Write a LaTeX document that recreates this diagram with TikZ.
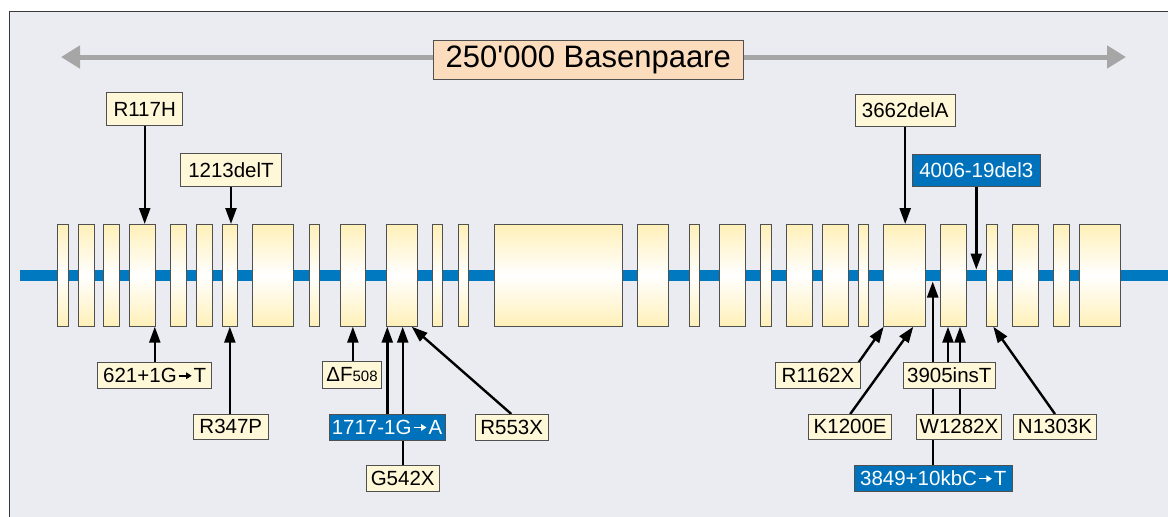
\documentclass[tikz,border=0pt]{standalone}
\usepackage{fontspec}
\setmainfont{Liberation Sans}[Ligatures=TeXOff]
\usetikzlibrary{arrows.meta,calc}
\definecolor{panel}{HTML}{EBECF2}
\definecolor{frameline}{HTML}{3A3A3A}
\definecolor{geneblue}{HTML}{0079C1}
\definecolor{exonyellow}{HTML}{FFF0B8}
\definecolor{cream}{HTML}{FFF8D8}
\definecolor{peach}{HTML}{FBDDBE}
\definecolor{scalegray}{HTML}{A6A6A6}
\definecolor{boxblue}{HTML}{0072BC}
\definecolor{edge}{HTML}{505050}
\pgfdeclarelayer{bg}
\pgfdeclarelayer{conn}
\pgfsetlayers{bg,conn,main}
% short bold arrow used inside mutation names
\newcommand{\mutarrow}{\kern0.06em\tikz[baseline=0pt,x=1pt,y=1pt]
  \draw[line width=1.5pt,-{Triangle[length=5.5pt,width=6.5pt]}] (0,6.6) -- (13,6.6);\kern0.06em}
\tikzset{
  exon/.style={draw=edge, line width=0.9pt, inner sep=0pt, outer sep=0pt,
    minimum height=102.7pt, top color=exonyellow, bottom color=exonyellow,
    middle color=white},
  lab/.style={draw=edge, line width=0.8pt, fill=cream, inner sep=0pt, outer sep=0pt,
    font=\fontsize{20.5}{21}\selectfont, text=black},
  bluelab/.style={lab, fill=boxblue, text=white},
  pointer/.style={line width=2.4pt, -{Triangle[length=16pt,width=11pt]}}
}
\begin{document}
\begin{tikzpicture}[x=1pt,y=-1pt]
\useasboundingbox (0,0) rectangle (1168,517);

% panel with its top and left border
\begin{pgfonlayer}{bg}
  \fill[panel] (9,11) rectangle (1168,517);
  \draw[frameline, line width=1pt] (9,517) -- (9,11) -- (1168,11);
  % gene backbone
  \coordinate (gl) at (20,275.5);
  \coordinate (gr) at (1168,275.5);
  \draw[geneblue, line width=11pt] (gl) -- (gr);
\end{pgfonlayer}

% scale bar
\coordinate (sl) at (61,57);
\coordinate (sr) at (1126,57);
\draw[scalegray, line width=5pt,
  {Triangle[length=19pt,width=22pt]}-{Triangle[length=19pt,width=22pt]}] (sl) -- (sr);
\node[draw=edge, line width=0.8pt, fill=peach, inner sep=0pt,
  minimum width=310pt, minimum height=39pt,
  font=\fontsize{31}{32}\selectfont] (title) at (588.3,59.7) {250'000 Basenpaare};

% exons
\foreach \l/\r [count=\i] in {57.3/68.3, 78.3/94, 103.7/119.3, 129.3/155.3,
  170.3/186, 196.3/212, 222/237.7, 252.3/293.7, 309.3/319.7, 340/365.7,
  386.3/417.3, 432.3/442.7, 458/468.3, 494/622.3, 637.7/668.3, 689/699.3,
  719.7/745.3, 760.7/771, 786.3/812.3, 822.3/848.3, 858.3/868.7, 883.7/925.3,
  940.3/966.3, 986.3/997.3, 1012.3/1038.3, 1053.3/1069, 1079/1120.3}
  \node[exon, minimum width={\r-\l}] (e\i) at ({(\l+\r)/2},275.35) {};

\coordinate (gtop) at (0,269.5);
\coordinate (gbot) at (0,281.5);

% mutation labels above the gene
\node[lab, minimum width=76pt, minimum height=33.4pt] (r117h) at (144.7,109) {R117H};
\node[lab, minimum width=101.4pt, minimum height=32.7pt] (d1213) at (231,169.7) {1213delT};
\node[lab, minimum width=100.3pt, minimum height=32pt] (d3662) at (905.2,110) {3662delA};
\node[bluelab, minimum width=127.3pt, minimum height=32.7pt] (d4006) at (976.3,170.3) {4006-19del3};

% mutation labels below the gene
\node[lab, minimum width=114pt, minimum height=26pt] (s621) at (154.7,375.3) {621+1G\mutarrow T};
\node[lab, minimum width=75pt, minimum height=25.3pt] (r347p) at (230.8,426.7) {R347P};
\node[lab, minimum width=59.4pt, minimum height=26.6pt] (df508) at (352,375) {ΔF{\fontsize{15}{15}\selectfont 508}};
\node[bluelab, minimum width=116pt, minimum height=26pt] (s1717) at (387,427) {1717-1G\mutarrow A};
\node[lab, minimum width=73.3pt, minimum height=26.7pt] (g542x) at (402.7,478.3) {G542X};
\node[lab, minimum width=73.3pt, minimum height=26pt] (r553x) at (511.7,427) {R553X};
\node[lab, minimum width=85.4pt, minimum height=26pt] (r1162x) at (818,375.3) {R1162X};
\node[lab, minimum width=83pt, minimum height=25.3pt] (k1200e) at (850.2,426.7) {K1200E};
\node[lab, minimum width=92.7pt, minimum height=26pt] (i3905) at (949.3,375.3) {3905insT};
\node[lab, minimum width=85.4pt, minimum height=25.3pt] (w1282x) at (959,426.7) {W1282X};
\node[bluelab, minimum width=157.3pt, minimum height=26pt] (s3849) at (933.3,478) {3849+10kbC\mutarrow T};
\node[lab, minimum width=83.4pt, minimum height=25.3pt] (n1303k) at (1055,426.7) {N1303K};

% attachment points on the exons
\coordinate (t553) at ($(e11.south east)+(-5.6,0)$);
\coordinate (t1200) at ($(e22.south)+(8.8,0)$);
\coordinate (t3905) at ($(e23.south)+(-5.3,0)$);
\coordinate (t1282) at ($(e23.south)+(6.7,0)$);
\coordinate (t1303) at ($(e24.south)+(1.5,0)$);
\coordinate (t621) at ($(e4.south east)+(-0.5,0)$);
\coordinate (t1717) at ($(e11.south west)+(1,0)$);

% pointers from labels to the gene
\begin{pgfonlayer}{conn}
  \draw[pointer] (r117h.south) -- (r117h.south |- e4.north);
  \draw[pointer] (d1213.south) -- (d1213.south |- e7.north);
  \draw[pointer] (d3662.south) -- (d3662.south |- e22.north);
  \draw[pointer] (d4006.south) -- (d4006.south |- gtop);

  \draw[pointer] (t621 |- s621.north) -- (t621);
  \draw[pointer] (e7.south |- r347p.north) -- (e7.south);
  \draw[pointer] (e10.south |- df508.north) -- (e10.south);
  \draw[pointer] (t1717 |- s1717.north) -- (t1717);
  \draw[pointer] (g542x.north) -- (g542x.north |- e11.south);
  \draw[pointer] ([xshift=-0.4pt]r553x.north) -- (t553);

  \draw[pointer] ([xshift=-2pt]r1162x.north east) -- (e22.south west);
  \draw[pointer] (k1200e.north) -- (t1200);
  \draw[pointer] (t3905 |- i3905.north) -- (t3905);
  \draw[pointer] (t1282 |- w1282x.north) -- (t1282);
  \draw[pointer] ([xshift=-0.6pt]s3849.north) -- ([xshift=-0.6pt]s3849.north |- gbot);
  \draw[pointer] (n1303k.north) -- (t1303);
\end{pgfonlayer}
\end{tikzpicture}
\end{document}
